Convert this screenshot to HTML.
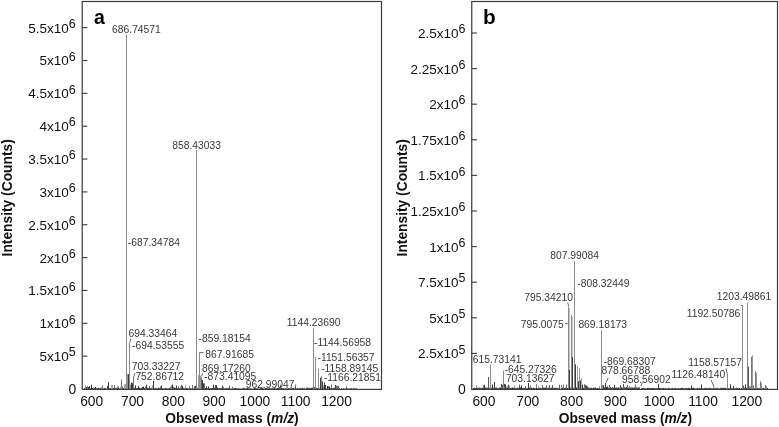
<!DOCTYPE html>
<html><head><meta charset="utf-8"><style>
html,body{margin:0;padding:0;background:#fff;width:779px;height:427px;overflow:hidden}
svg{display:block;will-change:transform;font-family:"Liberation Sans",sans-serif}
</style></head><body>
<svg width="779" height="427" viewBox="0 0 779 427">
<rect width="779" height="427" fill="#fff"/>
<text x="91.70" y="405.70" font-size="13.8" fill="#111" text-anchor="middle">600</text>
<text x="483.90" y="405.70" font-size="13.8" fill="#111" text-anchor="middle">600</text>
<text x="132.50" y="405.70" font-size="13.8" fill="#111" text-anchor="middle">700</text>
<text x="527.73" y="405.70" font-size="13.8" fill="#111" text-anchor="middle">700</text>
<text x="173.30" y="405.70" font-size="13.8" fill="#111" text-anchor="middle">800</text>
<text x="571.56" y="405.70" font-size="13.8" fill="#111" text-anchor="middle">800</text>
<text x="214.10" y="405.70" font-size="13.8" fill="#111" text-anchor="middle">900</text>
<text x="615.39" y="405.70" font-size="13.8" fill="#111" text-anchor="middle">900</text>
<text x="254.90" y="405.70" font-size="13.8" fill="#111" text-anchor="middle">1000</text>
<text x="659.22" y="405.70" font-size="13.8" fill="#111" text-anchor="middle">1000</text>
<text x="295.70" y="405.70" font-size="13.8" fill="#111" text-anchor="middle">1100</text>
<text x="703.05" y="405.70" font-size="13.8" fill="#111" text-anchor="middle">1100</text>
<text x="336.50" y="405.70" font-size="13.8" fill="#111" text-anchor="middle">1200</text>
<text x="746.88" y="405.70" font-size="13.8" fill="#111" text-anchor="middle">1200</text>
<text x="232" y="422.6" font-size="13.8" font-weight="bold" fill="#111" text-anchor="middle">Obseved mass (<tspan font-style="italic">m/z</tspan>)</text>
<text x="625.4" y="422.6" font-size="13.8" font-weight="bold" fill="#111" text-anchor="middle">Obseved mass (<tspan font-style="italic">m/z</tspan>)</text>
<text transform="translate(11.8,197.8) rotate(-90)" font-size="13.8" font-weight="bold" fill="#111" text-anchor="middle">Intensity (Counts)</text>
<text transform="translate(406.9,197.8) rotate(-90)" font-size="13.8" font-weight="bold" fill="#111" text-anchor="middle">Intensity (Counts)</text>
<text x="93.90" y="23.90" font-size="19.5" fill="#000" font-weight="bold">a</text>
<text x="482.90" y="24.20" font-size="20.8" fill="#000" font-weight="bold">b</text>
<rect x="84" y="388.04" width="1" height="1.46" fill="#414141"/>
<rect x="85" y="388.30" width="1" height="1.20" fill="#383838"/>
<rect x="86" y="388.12" width="1" height="1.38" fill="#696969"/>
<rect x="87" y="388.42" width="1" height="1.08" fill="#4a4a4a"/>
<rect x="87" y="385.92" width="1" height="2.50" fill="#777777"/>
<rect x="88" y="387.94" width="1" height="1.56" fill="#303030"/>
<rect x="89" y="388.03" width="1" height="1.47" fill="#4d4d4d"/>
<rect x="89" y="386.03" width="1" height="2.00" fill="#434343"/>
<rect x="90" y="388.48" width="1" height="1.02" fill="#323232"/>
<rect x="91" y="387.95" width="1" height="1.55" fill="#606060"/>
<rect x="92" y="388.08" width="1" height="1.42" fill="#333333"/>
<rect x="93" y="388.06" width="1" height="1.44" fill="#6f6f6f"/>
<rect x="94" y="387.89" width="1" height="1.61" fill="#4c4c4c"/>
<rect x="95" y="388.17" width="1" height="1.33" fill="#323232"/>
<rect x="96" y="388.35" width="1" height="1.15" fill="#3c3c3c"/>
<rect x="97" y="388.40" width="1" height="1.10" fill="#555555"/>
<rect x="98" y="387.75" width="1" height="1.75" fill="#707070"/>
<rect x="99" y="388.26" width="1" height="1.24" fill="#484848"/>
<rect x="100" y="387.82" width="1" height="1.68" fill="#6f6f6f"/>
<rect x="101" y="388.12" width="1" height="1.38" fill="#343434"/>
<rect x="102" y="388.17" width="1" height="1.33" fill="#636363"/>
<rect x="102" y="385.17" width="1" height="3.00" fill="#999999"/>
<rect x="103" y="388.43" width="1" height="1.07" fill="#5f5f5f"/>
<rect x="104" y="387.88" width="1" height="1.62" fill="#3d3d3d"/>
<rect x="105" y="388.20" width="1" height="1.30" fill="#626262"/>
<rect x="106" y="388.47" width="1" height="1.03" fill="#6c6c6c"/>
<rect x="107" y="387.98" width="1" height="1.52" fill="#626262"/>
<rect x="107" y="385.98" width="1" height="2.00" fill="#414141"/>
<rect x="108" y="388.07" width="1" height="1.43" fill="#494949"/>
<rect x="109" y="388.18" width="1" height="1.32" fill="#4d4d4d"/>
<rect x="110" y="388.13" width="1" height="1.37" fill="#5d5d5d"/>
<rect x="111" y="388.19" width="1" height="1.31" fill="#303030"/>
<rect x="112" y="388.09" width="1" height="1.41" fill="#404040"/>
<rect x="113" y="387.74" width="1" height="1.76" fill="#666666"/>
<rect x="114" y="388.04" width="1" height="1.46" fill="#5e5e5e"/>
<rect x="114" y="385.04" width="1" height="3.00" fill="#747474"/>
<rect x="115" y="387.85" width="1" height="1.65" fill="#6e6e6e"/>
<rect x="116" y="388.07" width="1" height="1.43" fill="#303030"/>
<rect x="117" y="388.13" width="1" height="1.37" fill="#5a5a5a"/>
<rect x="117" y="386.13" width="1" height="2.00" fill="#919191"/>
<rect x="118" y="388.06" width="1" height="1.44" fill="#464646"/>
<rect x="118" y="386.56" width="1" height="1.50" fill="#868686"/>
<rect x="119" y="388.47" width="1" height="1.03" fill="#505050"/>
<rect x="120" y="388.43" width="1" height="1.07" fill="#393939"/>
<rect x="120" y="386.93" width="1" height="1.50" fill="#a0a0a0"/>
<rect x="121" y="388.30" width="1" height="1.20" fill="#535353"/>
<rect x="121" y="385.30" width="1" height="3.00" fill="#575757"/>
<rect x="122" y="388.27" width="1" height="1.23" fill="#5c5c5c"/>
<rect x="122" y="386.27" width="1" height="2.00" fill="#838383"/>
<rect x="123" y="387.97" width="1" height="1.53" fill="#454545"/>
<rect x="124" y="388.14" width="1" height="1.36" fill="#555555"/>
<rect x="125" y="388.41" width="1" height="1.09" fill="#6c6c6c"/>
<rect x="126" y="388.16" width="1" height="1.34" fill="#5b5b5b"/>
<rect x="126" y="386.66" width="1" height="1.50" fill="#606060"/>
<rect x="127" y="387.73" width="1" height="1.77" fill="#4a4a4a"/>
<rect x="128" y="388.32" width="1" height="1.18" fill="#323232"/>
<rect x="129" y="387.92" width="1" height="1.58" fill="#343434"/>
<rect x="129" y="384.42" width="1" height="3.50" fill="#808080"/>
<rect x="130" y="388.06" width="1" height="1.44" fill="#666666"/>
<rect x="130" y="384.56" width="1" height="3.50" fill="#989898"/>
<rect x="131" y="388.32" width="1" height="1.18" fill="#696969"/>
<rect x="132" y="387.96" width="1" height="1.54" fill="#626262"/>
<rect x="133" y="388.45" width="1" height="1.05" fill="#666666"/>
<rect x="134" y="387.80" width="1" height="1.70" fill="#4b4b4b"/>
<rect x="135" y="388.25" width="1" height="1.25" fill="#393939"/>
<rect x="136" y="388.17" width="1" height="1.33" fill="#444444"/>
<rect x="137" y="388.05" width="1" height="1.45" fill="#313131"/>
<rect x="138" y="387.73" width="1" height="1.77" fill="#4b4b4b"/>
<rect x="139" y="387.84" width="1" height="1.66" fill="#454545"/>
<rect x="140" y="388.20" width="1" height="1.30" fill="#343434"/>
<rect x="141" y="388.04" width="1" height="1.46" fill="#4a4a4a"/>
<rect x="142" y="388.11" width="1" height="1.39" fill="#484848"/>
<rect x="143" y="388.26" width="1" height="1.24" fill="#616161"/>
<rect x="144" y="388.01" width="1" height="1.49" fill="#595959"/>
<rect x="145" y="388.49" width="1" height="1.01" fill="#545454"/>
<rect x="145" y="386.49" width="1" height="2.00" fill="#888888"/>
<rect x="146" y="388.23" width="1" height="1.27" fill="#414141"/>
<rect x="146" y="384.73" width="1" height="3.50" fill="#4c4c4c"/>
<rect x="147" y="387.75" width="1" height="1.75" fill="#606060"/>
<rect x="148" y="387.89" width="1" height="1.61" fill="#6e6e6e"/>
<rect x="149" y="387.92" width="1" height="1.58" fill="#383838"/>
<rect x="149" y="385.92" width="1" height="2.00" fill="#555555"/>
<rect x="150" y="388.29" width="1" height="1.21" fill="#4b4b4b"/>
<rect x="151" y="387.83" width="1" height="1.67" fill="#707070"/>
<rect x="152" y="388.41" width="1" height="1.09" fill="#5b5b5b"/>
<rect x="152" y="385.41" width="1" height="3.00" fill="#9b9b9b"/>
<rect x="153" y="388.39" width="1" height="1.11" fill="#6e6e6e"/>
<rect x="154" y="388.24" width="1" height="1.26" fill="#3d3d3d"/>
<rect x="155" y="387.81" width="1" height="1.69" fill="#606060"/>
<rect x="156" y="388.23" width="1" height="1.27" fill="#404040"/>
<rect x="157" y="388.44" width="1" height="1.06" fill="#606060"/>
<rect x="158" y="387.74" width="1" height="1.76" fill="#3a3a3a"/>
<rect x="159" y="388.05" width="1" height="1.45" fill="#555555"/>
<rect x="160" y="387.78" width="1" height="1.72" fill="#6a6a6a"/>
<rect x="160" y="386.28" width="1" height="1.50" fill="#656565"/>
<rect x="161" y="388.01" width="1" height="1.49" fill="#313131"/>
<rect x="161" y="385.51" width="1" height="2.50" fill="#4e4e4e"/>
<rect x="162" y="388.35" width="1" height="1.15" fill="#353535"/>
<rect x="163" y="388.37" width="1" height="1.13" fill="#656565"/>
<rect x="164" y="388.37" width="1" height="1.13" fill="#4e4e4e"/>
<rect x="165" y="387.77" width="1" height="1.73" fill="#676767"/>
<rect x="166" y="388.06" width="1" height="1.44" fill="#555555"/>
<rect x="167" y="388.42" width="1" height="1.08" fill="#585858"/>
<rect x="168" y="388.48" width="1" height="1.02" fill="#353535"/>
<rect x="169" y="387.92" width="1" height="1.58" fill="#555555"/>
<rect x="170" y="388.25" width="1" height="1.25" fill="#626262"/>
<rect x="170" y="386.25" width="1" height="2.00" fill="#8c8c8c"/>
<rect x="171" y="388.41" width="1" height="1.09" fill="#6a6a6a"/>
<rect x="171" y="385.41" width="1" height="3.00" fill="#858585"/>
<rect x="172" y="387.97" width="1" height="1.53" fill="#6c6c6c"/>
<rect x="173" y="388.25" width="1" height="1.25" fill="#4a4a4a"/>
<rect x="173" y="386.75" width="1" height="1.50" fill="#636363"/>
<rect x="174" y="387.71" width="1" height="1.79" fill="#3b3b3b"/>
<rect x="175" y="387.75" width="1" height="1.75" fill="#5b5b5b"/>
<rect x="176" y="388.47" width="1" height="1.03" fill="#575757"/>
<rect x="176" y="385.47" width="1" height="3.00" fill="#666666"/>
<rect x="177" y="388.23" width="1" height="1.27" fill="#4f4f4f"/>
<rect x="178" y="388.30" width="1" height="1.20" fill="#3b3b3b"/>
<rect x="178" y="386.30" width="1" height="2.00" fill="#737373"/>
<rect x="179" y="388.29" width="1" height="1.21" fill="#393939"/>
<rect x="180" y="388.48" width="1" height="1.02" fill="#393939"/>
<rect x="180" y="386.48" width="1" height="2.00" fill="#7f7f7f"/>
<rect x="181" y="387.81" width="1" height="1.69" fill="#6c6c6c"/>
<rect x="181" y="384.81" width="1" height="3.00" fill="#696969"/>
<rect x="182" y="388.09" width="1" height="1.41" fill="#393939"/>
<rect x="183" y="387.88" width="1" height="1.62" fill="#464646"/>
<rect x="184" y="388.26" width="1" height="1.24" fill="#585858"/>
<rect x="185" y="388.40" width="1" height="1.10" fill="#555555"/>
<rect x="185" y="385.40" width="1" height="3.00" fill="#9c9c9c"/>
<rect x="186" y="387.88" width="1" height="1.62" fill="#343434"/>
<rect x="187" y="388.36" width="1" height="1.14" fill="#4a4a4a"/>
<rect x="188" y="388.46" width="1" height="1.04" fill="#444444"/>
<rect x="189" y="388.30" width="1" height="1.20" fill="#4f4f4f"/>
<rect x="189" y="385.80" width="1" height="2.50" fill="#777777"/>
<rect x="190" y="388.07" width="1" height="1.43" fill="#505050"/>
<rect x="191" y="388.49" width="1" height="1.01" fill="#6a6a6a"/>
<rect x="192" y="388.29" width="1" height="1.21" fill="#454545"/>
<rect x="192" y="384.79" width="1" height="3.50" fill="#757575"/>
<rect x="193" y="388.45" width="1" height="1.05" fill="#323232"/>
<rect x="194" y="388.03" width="1" height="1.47" fill="#414141"/>
<rect x="194" y="386.03" width="1" height="2.00" fill="#727272"/>
<rect x="195" y="388.36" width="1" height="1.14" fill="#636363"/>
<rect x="195" y="385.86" width="1" height="2.50" fill="#404040"/>
<rect x="196" y="388.08" width="1" height="1.42" fill="#464646"/>
<rect x="197" y="387.76" width="1" height="1.74" fill="#686868"/>
<rect x="198" y="388.31" width="1" height="1.19" fill="#4c4c4c"/>
<rect x="199" y="387.73" width="1" height="1.77" fill="#6d6d6d"/>
<rect x="201" y="387.81" width="1" height="1.69" fill="#696969"/>
<rect x="202" y="388.14" width="1" height="1.36" fill="#6b6b6b"/>
<rect x="203" y="388.35" width="1" height="1.15" fill="#484848"/>
<rect x="204" y="388.42" width="1" height="1.08" fill="#474747"/>
<rect x="205" y="388.07" width="1" height="1.43" fill="#3b3b3b"/>
<rect x="206" y="388.02" width="1" height="1.48" fill="#353535"/>
<rect x="207" y="387.98" width="1" height="1.52" fill="#696969"/>
<rect x="208" y="388.00" width="1" height="1.50" fill="#444444"/>
<rect x="209" y="388.45" width="1" height="1.05" fill="#383838"/>
<rect x="210" y="388.02" width="1" height="1.48" fill="#4e4e4e"/>
<rect x="211" y="388.15" width="1" height="1.35" fill="#595959"/>
<rect x="212" y="387.99" width="1" height="1.51" fill="#4d4d4d"/>
<rect x="213" y="388.13" width="1" height="1.37" fill="#3a3a3a"/>
<rect x="214" y="387.93" width="1" height="1.57" fill="#3a3a3a"/>
<rect x="215" y="388.09" width="1" height="1.41" fill="#4d4d4d"/>
<rect x="215" y="385.09" width="1" height="3.00" fill="#4d4d4d"/>
<rect x="216" y="388.41" width="1" height="1.09" fill="#636363"/>
<rect x="217" y="387.73" width="1" height="1.77" fill="#383838"/>
<rect x="218" y="388.33" width="1" height="1.17" fill="#303030"/>
<rect x="219" y="388.12" width="1" height="1.38" fill="#363636"/>
<rect x="220" y="388.16" width="1" height="1.34" fill="#626262"/>
<rect x="221" y="387.88" width="1" height="1.62" fill="#494949"/>
<rect x="222" y="388.25" width="1" height="1.25" fill="#3b3b3b"/>
<rect x="222" y="385.75" width="1" height="2.50" fill="#4f4f4f"/>
<rect x="223" y="388.30" width="1" height="1.20" fill="#414141"/>
<rect x="223" y="386.80" width="1" height="1.50" fill="#7b7b7b"/>
<rect x="224" y="388.36" width="1" height="1.14" fill="#6e6e6e"/>
<rect x="225" y="388.09" width="1" height="1.41" fill="#696969"/>
<rect x="226" y="388.16" width="1" height="1.34" fill="#404040"/>
<rect x="227" y="388.16" width="1" height="1.34" fill="#626262"/>
<rect x="228" y="387.81" width="1" height="1.69" fill="#525252"/>
<rect x="229" y="387.70" width="1" height="1.80" fill="#565656"/>
<rect x="229" y="385.70" width="1" height="2.00" fill="#727272"/>
<rect x="231" y="388.48" width="1" height="1.02" fill="#6c6c6c"/>
<rect x="232" y="388.59" width="1" height="0.91" fill="#5c5c5c"/>
<rect x="232" y="386.59" width="1" height="2.00" fill="#7d7d7d"/>
<rect x="233" y="388.19" width="1" height="1.31" fill="#535353"/>
<rect x="234" y="388.25" width="1" height="1.25" fill="#4d4d4d"/>
<rect x="235" y="387.92" width="1" height="1.58" fill="#424242"/>
<rect x="236" y="387.98" width="1" height="1.52" fill="#5b5b5b"/>
<rect x="237" y="388.64" width="1" height="0.86" fill="#494949"/>
<rect x="238" y="388.15" width="1" height="1.35" fill="#5b5b5b"/>
<rect x="239" y="388.69" width="1" height="0.81" fill="#3b3b3b"/>
<rect x="240" y="388.63" width="1" height="0.87" fill="#4c4c4c"/>
<rect x="241" y="388.61" width="1" height="0.89" fill="#686868"/>
<rect x="242" y="388.27" width="1" height="1.23" fill="#414141"/>
<rect x="243" y="387.92" width="1" height="1.58" fill="#444444"/>
<rect x="244" y="388.29" width="1" height="1.21" fill="#454545"/>
<rect x="245" y="388.17" width="1" height="1.33" fill="#656565"/>
<rect x="246" y="388.27" width="1" height="1.23" fill="#616161"/>
<rect x="247" y="387.93" width="1" height="1.57" fill="#3a3a3a"/>
<rect x="248" y="388.41" width="1" height="1.09" fill="#515151"/>
<rect x="249" y="388.16" width="1" height="1.34" fill="#616161"/>
<rect x="250" y="388.43" width="1" height="1.07" fill="#4e4e4e"/>
<rect x="251" y="388.56" width="1" height="0.94" fill="#707070"/>
<rect x="252" y="388.67" width="1" height="0.83" fill="#676767"/>
<rect x="253" y="388.67" width="1" height="0.83" fill="#666666"/>
<rect x="254" y="388.10" width="1" height="1.40" fill="#3d3d3d"/>
<rect x="255" y="388.14" width="1" height="1.36" fill="#393939"/>
<rect x="256" y="388.30" width="1" height="1.20" fill="#535353"/>
<rect x="257" y="388.29" width="1" height="1.21" fill="#363636"/>
<rect x="258" y="388.47" width="1" height="1.03" fill="#5b5b5b"/>
<rect x="259" y="388.51" width="1" height="0.99" fill="#6d6d6d"/>
<rect x="260" y="387.96" width="1" height="1.54" fill="#6b6b6b"/>
<rect x="261" y="388.09" width="1" height="1.41" fill="#484848"/>
<rect x="262" y="387.94" width="1" height="1.56" fill="#303030"/>
<rect x="263" y="388.56" width="1" height="0.94" fill="#5b5b5b"/>
<rect x="264" y="388.67" width="1" height="0.83" fill="#707070"/>
<rect x="265" y="387.90" width="1" height="1.60" fill="#5e5e5e"/>
<rect x="266" y="387.96" width="1" height="1.54" fill="#333333"/>
<rect x="267" y="388.19" width="1" height="1.31" fill="#535353"/>
<rect x="268" y="388.32" width="1" height="1.18" fill="#707070"/>
<rect x="269" y="388.15" width="1" height="1.35" fill="#515151"/>
<rect x="270" y="388.34" width="1" height="1.16" fill="#444444"/>
<rect x="271" y="388.48" width="1" height="1.02" fill="#353535"/>
<rect x="272" y="388.14" width="1" height="1.36" fill="#686868"/>
<rect x="273" y="388.28" width="1" height="1.22" fill="#545454"/>
<rect x="274" y="388.14" width="1" height="1.36" fill="#303030"/>
<rect x="275" y="388.36" width="1" height="1.14" fill="#525252"/>
<rect x="276" y="388.32" width="1" height="1.18" fill="#676767"/>
<rect x="277" y="388.09" width="1" height="1.41" fill="#515151"/>
<rect x="278" y="387.98" width="1" height="1.52" fill="#3b3b3b"/>
<rect x="279" y="387.92" width="1" height="1.58" fill="#5c5c5c"/>
<rect x="280" y="388.25" width="1" height="1.25" fill="#616161"/>
<rect x="280" y="384.75" width="1" height="3.50" fill="#535353"/>
<rect x="281" y="388.06" width="1" height="1.44" fill="#333333"/>
<rect x="282" y="388.27" width="1" height="1.23" fill="#656565"/>
<rect x="283" y="388.07" width="1" height="1.43" fill="#606060"/>
<rect x="284" y="388.45" width="1" height="1.05" fill="#484848"/>
<rect x="285" y="388.20" width="1" height="1.30" fill="#6e6e6e"/>
<rect x="286" y="388.24" width="1" height="1.26" fill="#626262"/>
<rect x="287" y="388.44" width="1" height="1.06" fill="#5d5d5d"/>
<rect x="288" y="388.15" width="1" height="1.35" fill="#424242"/>
<rect x="289" y="388.14" width="1" height="1.36" fill="#575757"/>
<rect x="290" y="388.41" width="1" height="1.09" fill="#676767"/>
<rect x="291" y="388.20" width="1" height="1.30" fill="#6e6e6e"/>
<rect x="292" y="388.17" width="1" height="1.33" fill="#373737"/>
<rect x="293" y="387.99" width="1" height="1.51" fill="#4e4e4e"/>
<rect x="294" y="388.69" width="1" height="0.81" fill="#4c4c4c"/>
<rect x="295" y="388.02" width="1" height="1.48" fill="#535353"/>
<rect x="296" y="388.52" width="1" height="0.98" fill="#555555"/>
<rect x="297" y="387.98" width="1" height="1.52" fill="#707070"/>
<rect x="298" y="388.33" width="1" height="1.17" fill="#707070"/>
<rect x="299" y="388.33" width="1" height="1.17" fill="#4f4f4f"/>
<rect x="300" y="388.03" width="1" height="1.47" fill="#363636"/>
<rect x="301" y="388.28" width="1" height="1.22" fill="#626262"/>
<rect x="302" y="387.92" width="1" height="1.58" fill="#363636"/>
<rect x="303" y="388.42" width="1" height="1.08" fill="#575757"/>
<rect x="304" y="388.08" width="1" height="1.42" fill="#595959"/>
<rect x="306" y="387.81" width="1" height="1.69" fill="#505050"/>
<rect x="307" y="387.73" width="1" height="1.77" fill="#333333"/>
<rect x="308" y="387.88" width="1" height="1.62" fill="#4f4f4f"/>
<rect x="309" y="388.10" width="1" height="1.40" fill="#3e3e3e"/>
<rect x="310" y="387.96" width="1" height="1.54" fill="#606060"/>
<rect x="311" y="387.82" width="1" height="1.68" fill="#313131"/>
<rect x="312" y="387.67" width="1" height="1.83" fill="#474747"/>
<rect x="313" y="387.79" width="1" height="1.71" fill="#444444"/>
<rect x="313" y="384.79" width="1" height="3.00" fill="#8f8f8f"/>
<rect x="314" y="388.30" width="1" height="1.20" fill="#686868"/>
<rect x="314" y="386.80" width="1" height="1.50" fill="#5a5a5a"/>
<rect x="315" y="387.63" width="1" height="1.87" fill="#4b4b4b"/>
<rect x="315" y="385.63" width="1" height="2.00" fill="#656565"/>
<rect x="316" y="387.63" width="1" height="1.87" fill="#585858"/>
<rect x="317" y="388.25" width="1" height="1.25" fill="#4a4a4a"/>
<rect x="318" y="387.63" width="1" height="1.87" fill="#494949"/>
<rect x="319" y="388.38" width="1" height="1.12" fill="#565656"/>
<rect x="320" y="388.19" width="1" height="1.31" fill="#424242"/>
<rect x="321" y="387.92" width="1" height="1.58" fill="#303030"/>
<rect x="322" y="388.15" width="1" height="1.35" fill="#383838"/>
<rect x="323" y="387.84" width="1" height="1.66" fill="#6d6d6d"/>
<rect x="323" y="385.34" width="1" height="2.50" fill="#9a9a9a"/>
<rect x="324" y="388.35" width="1" height="1.15" fill="#464646"/>
<rect x="325" y="387.64" width="1" height="1.86" fill="#323232"/>
<rect x="326" y="388.39" width="1" height="1.11" fill="#636363"/>
<rect x="327" y="388.10" width="1" height="1.40" fill="#5e5e5e"/>
<rect x="328" y="388.36" width="1" height="1.14" fill="#696969"/>
<rect x="328" y="386.36" width="1" height="2.00" fill="#4f4f4f"/>
<rect x="329" y="387.66" width="1" height="1.84" fill="#4f4f4f"/>
<rect x="330" y="387.99" width="1" height="1.51" fill="#5c5c5c"/>
<rect x="331" y="387.78" width="1" height="1.72" fill="#505050"/>
<rect x="331" y="384.28" width="1" height="3.50" fill="#6f6f6f"/>
<rect x="332" y="388.37" width="1" height="1.13" fill="#555555"/>
<rect x="333" y="388.23" width="1" height="1.27" fill="#3b3b3b"/>
<rect x="334" y="387.67" width="1" height="1.83" fill="#5e5e5e"/>
<rect x="335" y="388.15" width="1" height="1.35" fill="#3b3b3b"/>
<rect x="336" y="387.76" width="1" height="1.74" fill="#464646"/>
<rect x="337" y="387.60" width="1" height="1.90" fill="#575757"/>
<rect x="337" y="386.10" width="1" height="1.50" fill="#4a4a4a"/>
<rect x="338" y="388.37" width="1" height="1.13" fill="#636363"/>
<rect x="339" y="387.74" width="1" height="1.76" fill="#5c5c5c"/>
<rect x="341" y="388.04" width="1" height="1.46" fill="#595959"/>
<rect x="342" y="388.74" width="1" height="0.76" fill="#363636"/>
<rect x="343" y="388.33" width="1" height="1.17" fill="#5e5e5e"/>
<rect x="344" y="388.77" width="1" height="0.73" fill="#4b4b4b"/>
<rect x="345" y="388.61" width="1" height="0.89" fill="#383838"/>
<rect x="346" y="388.14" width="1" height="1.36" fill="#373737"/>
<rect x="346" y="386.14" width="1" height="2.00" fill="#909090"/>
<rect x="347" y="388.34" width="1" height="1.16" fill="#373737"/>
<rect x="348" y="388.76" width="1" height="0.74" fill="#4c4c4c"/>
<rect x="349" y="388.46" width="1" height="1.04" fill="#555555"/>
<rect x="350" y="388.35" width="1" height="1.15" fill="#575757"/>
<rect x="351" y="388.33" width="1" height="1.17" fill="#3d3d3d"/>
<rect x="352" y="388.72" width="1" height="0.78" fill="#5f5f5f"/>
<rect x="353" y="388.30" width="1" height="1.20" fill="#373737"/>
<rect x="354" y="388.18" width="1" height="1.32" fill="#666666"/>
<rect x="355" y="388.51" width="1" height="0.99" fill="#6a6a6a"/>
<rect x="356" y="388.24" width="1" height="1.26" fill="#474747"/>
<rect x="85" y="385.30" width="1" height="4.20" fill="#999"/>
<rect x="86" y="386.90" width="1" height="2.60" fill="#3a3a3a"/>
<rect x="88" y="387.00" width="1" height="2.50" fill="#3a3a3a"/>
<rect x="91" y="384.80" width="1" height="4.70" fill="#3a3a3a"/>
<rect x="93" y="387.00" width="1" height="2.50" fill="#999"/>
<rect x="95" y="387.00" width="1" height="2.50" fill="#3a3a3a"/>
<rect x="98" y="388.00" width="1" height="1.50" fill="#3a3a3a"/>
<rect x="101" y="387.00" width="1" height="2.50" fill="#999"/>
<rect x="108" y="381.90" width="1" height="7.60" fill="#3a3a3a"/>
<rect x="111" y="384.80" width="1" height="4.70" fill="#aaa"/>
<rect x="112" y="384.80" width="1" height="4.70" fill="#aaa"/>
<rect x="113" y="388.00" width="1" height="1.50" fill="#3a3a3a"/>
<rect x="118" y="388.00" width="1" height="1.50" fill="#3a3a3a"/>
<rect x="121" y="379.60" width="1" height="9.90" fill="#777"/>
<rect x="124" y="384.30" width="1" height="5.20" fill="#aaa"/>
<rect x="125" y="384.00" width="1" height="5.50" fill="#999"/>
<rect x="127" y="373.90" width="1" height="15.60" fill="#999"/>
<rect x="128" y="374.20" width="1" height="15.30" fill="#3a3a3a"/>
<rect x="131" y="382.50" width="1" height="7.00" fill="#3a3a3a"/>
<rect x="132" y="383.20" width="1" height="6.30" fill="#3a3a3a"/>
<rect x="133" y="376.90" width="1" height="12.60" fill="#777"/>
<rect x="135" y="385.50" width="1" height="4.00" fill="#3a3a3a"/>
<rect x="138" y="386.20" width="1" height="3.30" fill="#3a3a3a"/>
<rect x="142" y="387.00" width="1" height="2.50" fill="#3a3a3a"/>
<rect x="143" y="386.50" width="1" height="3.00" fill="#3a3a3a"/>
<rect x="146" y="386.50" width="1" height="3.00" fill="#3a3a3a"/>
<rect x="153" y="380.80" width="1" height="8.70" fill="#3a3a3a"/>
<rect x="172" y="384.70" width="1" height="4.80" fill="#3a3a3a"/>
<rect x="176" y="386.00" width="1" height="3.50" fill="#3a3a3a"/>
<rect x="182" y="386.00" width="1" height="3.50" fill="#3a3a3a"/>
<rect x="198" y="375.10" width="1" height="14.40" fill="#999"/>
<rect x="200" y="375.70" width="1" height="13.80" fill="#999"/>
<rect x="201" y="377.60" width="1" height="11.90" fill="#666"/>
<rect x="202" y="380.20" width="1" height="9.30" fill="#3a3a3a"/>
<rect x="203" y="383.30" width="1" height="6.20" fill="#3a3a3a"/>
<rect x="204" y="383.30" width="1" height="6.20" fill="#777"/>
<rect x="206" y="386.50" width="1" height="3.00" fill="#3a3a3a"/>
<rect x="208" y="386.50" width="1" height="3.00" fill="#3a3a3a"/>
<rect x="213" y="384.60" width="1" height="4.90" fill="#3a3a3a"/>
<rect x="216" y="385.20" width="1" height="4.30" fill="#3a3a3a"/>
<rect x="318" y="377.10" width="1" height="12.40" fill="#3a3a3a"/>
<rect x="320" y="377.70" width="1" height="11.80" fill="#3a3a3a"/>
<rect x="322" y="381.40" width="1" height="8.10" fill="#3a3a3a"/>
<rect x="324" y="382.60" width="1" height="6.90" fill="#3a3a3a"/>
<rect x="325" y="385.00" width="1" height="4.50" fill="#3a3a3a"/>
<rect x="327" y="386.00" width="1" height="3.50" fill="#3a3a3a"/>
<rect x="329" y="386.50" width="1" height="3.00" fill="#3a3a3a"/>
<rect x="335" y="385.00" width="1" height="4.50" fill="#3a3a3a"/>
<rect x="336" y="385.50" width="1" height="4.00" fill="#777"/>
<rect x="338" y="386.00" width="1" height="3.50" fill="#777"/>
<rect x="295" y="387.00" width="1" height="2.50" fill="#3a3a3a"/>
<rect x="126" y="34.60" width="1" height="354.90" fill="#8a8a8a"/>
<rect x="129" y="342.80" width="1" height="46.70" fill="#8a8a8a"/>
<rect x="196" y="150.00" width="1" height="239.50" fill="#8a8a8a"/>
<rect x="199" y="352.50" width="1" height="37.00" fill="#8a8a8a"/>
<rect x="313" y="328.20" width="1" height="61.30" fill="#8a8a8a"/>
<rect x="315" y="357.00" width="1" height="32.50" fill="#8a8a8a"/>
<rect x="318" y="368.60" width="1" height="20.90" fill="#8a8a8a"/>
<rect x="321" y="375.90" width="1" height="13.60" fill="#8a8a8a"/>
<rect x="473" y="388.13" width="1" height="1.37" fill="#373737"/>
<rect x="474" y="387.61" width="1" height="1.89" fill="#454545"/>
<rect x="475" y="388.00" width="1" height="1.50" fill="#575757"/>
<rect x="476" y="387.74" width="1" height="1.76" fill="#343434"/>
<rect x="476" y="385.24" width="1" height="2.50" fill="#919191"/>
<rect x="477" y="387.56" width="1" height="1.94" fill="#626262"/>
<rect x="478" y="387.76" width="1" height="1.74" fill="#5f5f5f"/>
<rect x="479" y="387.48" width="1" height="2.02" fill="#525252"/>
<rect x="480" y="387.83" width="1" height="1.67" fill="#5e5e5e"/>
<rect x="481" y="387.86" width="1" height="1.64" fill="#606060"/>
<rect x="482" y="387.75" width="1" height="1.75" fill="#454545"/>
<rect x="483" y="388.06" width="1" height="1.44" fill="#333333"/>
<rect x="483" y="385.06" width="1" height="3.00" fill="#818181"/>
<rect x="484" y="387.40" width="1" height="2.10" fill="#5e5e5e"/>
<rect x="485" y="387.40" width="1" height="2.10" fill="#474747"/>
<rect x="486" y="387.61" width="1" height="1.89" fill="#656565"/>
<rect x="487" y="387.57" width="1" height="1.93" fill="#5e5e5e"/>
<rect x="488" y="388.07" width="1" height="1.43" fill="#696969"/>
<rect x="489" y="387.68" width="1" height="1.82" fill="#6b6b6b"/>
<rect x="490" y="387.46" width="1" height="2.04" fill="#535353"/>
<rect x="491" y="387.67" width="1" height="1.83" fill="#5d5d5d"/>
<rect x="492" y="387.92" width="1" height="1.58" fill="#6b6b6b"/>
<rect x="493" y="387.81" width="1" height="1.69" fill="#6a6a6a"/>
<rect x="494" y="387.55" width="1" height="1.95" fill="#595959"/>
<rect x="495" y="387.58" width="1" height="1.92" fill="#525252"/>
<rect x="496" y="387.43" width="1" height="2.07" fill="#565656"/>
<rect x="497" y="387.75" width="1" height="1.75" fill="#707070"/>
<rect x="498" y="387.95" width="1" height="1.55" fill="#646464"/>
<rect x="499" y="387.45" width="1" height="2.05" fill="#5e5e5e"/>
<rect x="500" y="387.57" width="1" height="1.93" fill="#393939"/>
<rect x="501" y="387.47" width="1" height="2.03" fill="#313131"/>
<rect x="501" y="383.97" width="1" height="3.50" fill="#4d4d4d"/>
<rect x="502" y="387.74" width="1" height="1.76" fill="#373737"/>
<rect x="502" y="384.74" width="1" height="3.00" fill="#5d5d5d"/>
<rect x="503" y="387.60" width="1" height="1.90" fill="#3d3d3d"/>
<rect x="503" y="385.60" width="1" height="2.00" fill="#5f5f5f"/>
<rect x="504" y="387.45" width="1" height="2.05" fill="#4a4a4a"/>
<rect x="504" y="383.95" width="1" height="3.50" fill="#444444"/>
<rect x="505" y="387.91" width="1" height="1.59" fill="#373737"/>
<rect x="505" y="384.41" width="1" height="3.50" fill="#434343"/>
<rect x="506" y="388.11" width="1" height="1.39" fill="#3a3a3a"/>
<rect x="506" y="386.61" width="1" height="1.50" fill="#9d9d9d"/>
<rect x="507" y="387.90" width="1" height="1.60" fill="#323232"/>
<rect x="507" y="385.90" width="1" height="2.00" fill="#9e9e9e"/>
<rect x="508" y="387.78" width="1" height="1.72" fill="#474747"/>
<rect x="508" y="384.78" width="1" height="3.00" fill="#454545"/>
<rect x="509" y="388.08" width="1" height="1.42" fill="#4f4f4f"/>
<rect x="509" y="386.08" width="1" height="2.00" fill="#8e8e8e"/>
<rect x="510" y="387.97" width="1" height="1.53" fill="#3e3e3e"/>
<rect x="511" y="387.84" width="1" height="1.66" fill="#575757"/>
<rect x="512" y="387.48" width="1" height="2.02" fill="#353535"/>
<rect x="513" y="387.82" width="1" height="1.68" fill="#434343"/>
<rect x="514" y="387.53" width="1" height="1.97" fill="#585858"/>
<rect x="514" y="385.53" width="1" height="2.00" fill="#828282"/>
<rect x="515" y="387.81" width="1" height="1.69" fill="#626262"/>
<rect x="516" y="387.99" width="1" height="1.51" fill="#5b5b5b"/>
<rect x="517" y="387.68" width="1" height="1.82" fill="#656565"/>
<rect x="518" y="387.66" width="1" height="1.84" fill="#414141"/>
<rect x="519" y="388.07" width="1" height="1.43" fill="#404040"/>
<rect x="519" y="384.57" width="1" height="3.50" fill="#5d5d5d"/>
<rect x="520" y="387.40" width="1" height="2.10" fill="#343434"/>
<rect x="521" y="388.14" width="1" height="1.36" fill="#686868"/>
<rect x="521" y="386.14" width="1" height="2.00" fill="#8f8f8f"/>
<rect x="522" y="387.99" width="1" height="1.51" fill="#5e5e5e"/>
<rect x="523" y="388.08" width="1" height="1.42" fill="#303030"/>
<rect x="524" y="388.11" width="1" height="1.39" fill="#444444"/>
<rect x="525" y="388.12" width="1" height="1.38" fill="#4e4e4e"/>
<rect x="525" y="386.12" width="1" height="2.00" fill="#4d4d4d"/>
<rect x="526" y="388.18" width="1" height="1.32" fill="#4b4b4b"/>
<rect x="527" y="387.95" width="1" height="1.55" fill="#6a6a6a"/>
<rect x="528" y="387.65" width="1" height="1.85" fill="#4b4b4b"/>
<rect x="529" y="387.62" width="1" height="1.88" fill="#4a4a4a"/>
<rect x="530" y="387.74" width="1" height="1.76" fill="#323232"/>
<rect x="530" y="385.24" width="1" height="2.50" fill="#838383"/>
<rect x="531" y="387.46" width="1" height="2.04" fill="#474747"/>
<rect x="532" y="387.91" width="1" height="1.59" fill="#6d6d6d"/>
<rect x="533" y="387.71" width="1" height="1.79" fill="#3f3f3f"/>
<rect x="534" y="387.95" width="1" height="1.55" fill="#5f5f5f"/>
<rect x="535" y="388.12" width="1" height="1.38" fill="#646464"/>
<rect x="536" y="387.55" width="1" height="1.95" fill="#323232"/>
<rect x="536" y="384.05" width="1" height="3.50" fill="#7e7e7e"/>
<rect x="537" y="388.03" width="1" height="1.47" fill="#6b6b6b"/>
<rect x="538" y="388.20" width="1" height="1.30" fill="#393939"/>
<rect x="538" y="386.20" width="1" height="2.00" fill="#9c9c9c"/>
<rect x="539" y="388.02" width="1" height="1.48" fill="#393939"/>
<rect x="540" y="387.74" width="1" height="1.76" fill="#3e3e3e"/>
<rect x="541" y="388.09" width="1" height="1.41" fill="#6b6b6b"/>
<rect x="542" y="388.00" width="1" height="1.50" fill="#3f3f3f"/>
<rect x="542" y="385.00" width="1" height="3.00" fill="#6a6a6a"/>
<rect x="543" y="387.43" width="1" height="2.07" fill="#626262"/>
<rect x="544" y="387.71" width="1" height="1.79" fill="#333333"/>
<rect x="545" y="387.62" width="1" height="1.88" fill="#353535"/>
<rect x="546" y="387.43" width="1" height="2.07" fill="#5d5d5d"/>
<rect x="546" y="385.43" width="1" height="2.00" fill="#626262"/>
<rect x="547" y="387.78" width="1" height="1.72" fill="#6d6d6d"/>
<rect x="548" y="387.45" width="1" height="2.05" fill="#656565"/>
<rect x="549" y="387.88" width="1" height="1.62" fill="#555555"/>
<rect x="549" y="384.88" width="1" height="3.00" fill="#616161"/>
<rect x="550" y="387.64" width="1" height="1.86" fill="#666666"/>
<rect x="551" y="387.73" width="1" height="1.77" fill="#3a3a3a"/>
<rect x="552" y="388.14" width="1" height="1.36" fill="#3c3c3c"/>
<rect x="552" y="385.14" width="1" height="3.00" fill="#525252"/>
<rect x="553" y="387.48" width="1" height="2.02" fill="#656565"/>
<rect x="554" y="388.10" width="1" height="1.40" fill="#343434"/>
<rect x="555" y="387.63" width="1" height="1.87" fill="#4d4d4d"/>
<rect x="556" y="387.85" width="1" height="1.65" fill="#5a5a5a"/>
<rect x="557" y="388.08" width="1" height="1.42" fill="#3e3e3e"/>
<rect x="558" y="388.12" width="1" height="1.38" fill="#666666"/>
<rect x="559" y="388.06" width="1" height="1.44" fill="#505050"/>
<rect x="559" y="384.56" width="1" height="3.50" fill="#5e5e5e"/>
<rect x="561" y="387.73" width="1" height="1.77" fill="#4e4e4e"/>
<rect x="561" y="384.73" width="1" height="3.00" fill="#7c7c7c"/>
<rect x="562" y="387.72" width="1" height="1.78" fill="#383838"/>
<rect x="563" y="387.99" width="1" height="1.51" fill="#6c6c6c"/>
<rect x="563" y="384.49" width="1" height="3.50" fill="#7c7c7c"/>
<rect x="564" y="387.88" width="1" height="1.62" fill="#6c6c6c"/>
<rect x="565" y="387.69" width="1" height="1.81" fill="#4d4d4d"/>
<rect x="566" y="387.61" width="1" height="1.89" fill="#616161"/>
<rect x="567" y="388.07" width="1" height="1.43" fill="#383838"/>
<rect x="568" y="387.96" width="1" height="1.54" fill="#353535"/>
<rect x="568" y="385.96" width="1" height="2.00" fill="#7c7c7c"/>
<rect x="569" y="387.63" width="1" height="1.87" fill="#616161"/>
<rect x="570" y="387.62" width="1" height="1.88" fill="#626262"/>
<rect x="571" y="387.50" width="1" height="2.00" fill="#414141"/>
<rect x="571" y="385.50" width="1" height="2.00" fill="#7f7f7f"/>
<rect x="572" y="387.99" width="1" height="1.51" fill="#4b4b4b"/>
<rect x="573" y="387.86" width="1" height="1.64" fill="#565656"/>
<rect x="574" y="387.77" width="1" height="1.73" fill="#5c5c5c"/>
<rect x="575" y="387.48" width="1" height="2.02" fill="#4d4d4d"/>
<rect x="576" y="387.51" width="1" height="1.99" fill="#333333"/>
<rect x="577" y="387.64" width="1" height="1.86" fill="#444444"/>
<rect x="578" y="387.63" width="1" height="1.87" fill="#3d3d3d"/>
<rect x="578" y="384.63" width="1" height="3.00" fill="#626262"/>
<rect x="579" y="388.10" width="1" height="1.40" fill="#545454"/>
<rect x="580" y="388.13" width="1" height="1.37" fill="#6d6d6d"/>
<rect x="581" y="387.48" width="1" height="2.02" fill="#646464"/>
<rect x="581" y="384.98" width="1" height="2.50" fill="#757575"/>
<rect x="582" y="388.16" width="1" height="1.34" fill="#3f3f3f"/>
<rect x="583" y="387.90" width="1" height="1.60" fill="#353535"/>
<rect x="584" y="387.80" width="1" height="1.70" fill="#535353"/>
<rect x="585" y="388.19" width="1" height="1.31" fill="#575757"/>
<rect x="585" y="385.19" width="1" height="3.00" fill="#444444"/>
<rect x="586" y="387.42" width="1" height="2.08" fill="#494949"/>
<rect x="587" y="388.08" width="1" height="1.42" fill="#515151"/>
<rect x="587" y="386.08" width="1" height="2.00" fill="#686868"/>
<rect x="588" y="387.43" width="1" height="2.07" fill="#5e5e5e"/>
<rect x="589" y="387.90" width="1" height="1.60" fill="#606060"/>
<rect x="590" y="387.68" width="1" height="1.82" fill="#616161"/>
<rect x="591" y="387.70" width="1" height="1.80" fill="#3d3d3d"/>
<rect x="592" y="387.98" width="1" height="1.52" fill="#707070"/>
<rect x="593" y="387.45" width="1" height="2.05" fill="#4e4e4e"/>
<rect x="594" y="387.78" width="1" height="1.72" fill="#515151"/>
<rect x="595" y="387.57" width="1" height="1.93" fill="#313131"/>
<rect x="596" y="388.18" width="1" height="1.32" fill="#585858"/>
<rect x="597" y="388.15" width="1" height="1.35" fill="#414141"/>
<rect x="598" y="387.92" width="1" height="1.58" fill="#6b6b6b"/>
<rect x="599" y="387.61" width="1" height="1.89" fill="#535353"/>
<rect x="599" y="386.11" width="1" height="1.50" fill="#969696"/>
<rect x="601" y="387.56" width="1" height="1.94" fill="#4e4e4e"/>
<rect x="602" y="387.68" width="1" height="1.82" fill="#6d6d6d"/>
<rect x="602" y="385.18" width="1" height="2.50" fill="#868686"/>
<rect x="603" y="387.16" width="1" height="2.34" fill="#555555"/>
<rect x="604" y="387.38" width="1" height="2.12" fill="#4c4c4c"/>
<rect x="605" y="387.14" width="1" height="2.36" fill="#464646"/>
<rect x="606" y="387.14" width="1" height="2.36" fill="#333333"/>
<rect x="607" y="387.65" width="1" height="1.85" fill="#525252"/>
<rect x="608" y="387.73" width="1" height="1.77" fill="#5f5f5f"/>
<rect x="609" y="387.40" width="1" height="2.10" fill="#616161"/>
<rect x="609" y="384.90" width="1" height="2.50" fill="#636363"/>
<rect x="610" y="387.04" width="1" height="2.46" fill="#3b3b3b"/>
<rect x="611" y="387.79" width="1" height="1.71" fill="#565656"/>
<rect x="612" y="387.12" width="1" height="2.38" fill="#575757"/>
<rect x="613" y="387.46" width="1" height="2.04" fill="#646464"/>
<rect x="614" y="387.67" width="1" height="1.83" fill="#696969"/>
<rect x="615" y="387.74" width="1" height="1.76" fill="#353535"/>
<rect x="616" y="387.38" width="1" height="2.12" fill="#535353"/>
<rect x="617" y="387.68" width="1" height="1.82" fill="#5b5b5b"/>
<rect x="618" y="387.47" width="1" height="2.03" fill="#383838"/>
<rect x="619" y="387.58" width="1" height="1.92" fill="#686868"/>
<rect x="620" y="387.29" width="1" height="2.21" fill="#595959"/>
<rect x="620" y="385.29" width="1" height="2.00" fill="#4c4c4c"/>
<rect x="621" y="387.23" width="1" height="2.27" fill="#373737"/>
<rect x="622" y="387.70" width="1" height="1.80" fill="#4e4e4e"/>
<rect x="623" y="387.43" width="1" height="2.07" fill="#555555"/>
<rect x="623" y="383.93" width="1" height="3.50" fill="#4a4a4a"/>
<rect x="624" y="387.21" width="1" height="2.29" fill="#545454"/>
<rect x="625" y="387.54" width="1" height="1.96" fill="#323232"/>
<rect x="626" y="387.18" width="1" height="2.32" fill="#434343"/>
<rect x="627" y="387.57" width="1" height="1.93" fill="#393939"/>
<rect x="627" y="385.07" width="1" height="2.50" fill="#656565"/>
<rect x="628" y="387.60" width="1" height="1.90" fill="#414141"/>
<rect x="629" y="387.53" width="1" height="1.97" fill="#444444"/>
<rect x="629" y="386.03" width="1" height="1.50" fill="#7a7a7a"/>
<rect x="630" y="387.51" width="1" height="1.99" fill="#454545"/>
<rect x="631" y="387.34" width="1" height="2.16" fill="#555555"/>
<rect x="632" y="387.46" width="1" height="2.04" fill="#4a4a4a"/>
<rect x="633" y="387.75" width="1" height="1.75" fill="#373737"/>
<rect x="634" y="387.31" width="1" height="2.19" fill="#434343"/>
<rect x="635" y="387.54" width="1" height="1.96" fill="#4f4f4f"/>
<rect x="635" y="384.54" width="1" height="3.00" fill="#656565"/>
<rect x="636" y="387.28" width="1" height="2.22" fill="#646464"/>
<rect x="637" y="387.61" width="1" height="1.89" fill="#494949"/>
<rect x="638" y="387.62" width="1" height="1.88" fill="#343434"/>
<rect x="639" y="387.14" width="1" height="2.36" fill="#666666"/>
<rect x="641" y="388.20" width="1" height="1.30" fill="#4d4d4d"/>
<rect x="642" y="387.94" width="1" height="1.56" fill="#484848"/>
<rect x="643" y="387.85" width="1" height="1.65" fill="#4f4f4f"/>
<rect x="644" y="387.99" width="1" height="1.51" fill="#636363"/>
<rect x="645" y="388.19" width="1" height="1.31" fill="#6a6a6a"/>
<rect x="646" y="388.43" width="1" height="1.07" fill="#636363"/>
<rect x="647" y="387.94" width="1" height="1.56" fill="#323232"/>
<rect x="648" y="387.78" width="1" height="1.72" fill="#6c6c6c"/>
<rect x="649" y="387.97" width="1" height="1.53" fill="#3e3e3e"/>
<rect x="650" y="388.19" width="1" height="1.31" fill="#383838"/>
<rect x="651" y="387.97" width="1" height="1.53" fill="#3d3d3d"/>
<rect x="652" y="388.10" width="1" height="1.40" fill="#3b3b3b"/>
<rect x="653" y="388.03" width="1" height="1.47" fill="#4a4a4a"/>
<rect x="654" y="388.07" width="1" height="1.43" fill="#383838"/>
<rect x="655" y="388.38" width="1" height="1.12" fill="#484848"/>
<rect x="656" y="387.92" width="1" height="1.58" fill="#6a6a6a"/>
<rect x="657" y="388.05" width="1" height="1.45" fill="#545454"/>
<rect x="658" y="388.39" width="1" height="1.11" fill="#666666"/>
<rect x="659" y="388.07" width="1" height="1.43" fill="#3c3c3c"/>
<rect x="660" y="387.74" width="1" height="1.76" fill="#5d5d5d"/>
<rect x="661" y="388.00" width="1" height="1.50" fill="#707070"/>
<rect x="662" y="388.08" width="1" height="1.42" fill="#5d5d5d"/>
<rect x="663" y="387.85" width="1" height="1.65" fill="#393939"/>
<rect x="664" y="388.22" width="1" height="1.28" fill="#4c4c4c"/>
<rect x="665" y="388.23" width="1" height="1.27" fill="#555555"/>
<rect x="666" y="388.30" width="1" height="1.20" fill="#666666"/>
<rect x="667" y="388.36" width="1" height="1.14" fill="#656565"/>
<rect x="668" y="387.75" width="1" height="1.75" fill="#454545"/>
<rect x="669" y="388.34" width="1" height="1.16" fill="#333333"/>
<rect x="670" y="388.41" width="1" height="1.09" fill="#565656"/>
<rect x="671" y="388.23" width="1" height="1.27" fill="#606060"/>
<rect x="672" y="387.78" width="1" height="1.72" fill="#676767"/>
<rect x="673" y="388.17" width="1" height="1.33" fill="#696969"/>
<rect x="674" y="388.27" width="1" height="1.23" fill="#383838"/>
<rect x="675" y="387.97" width="1" height="1.53" fill="#3a3a3a"/>
<rect x="676" y="388.38" width="1" height="1.12" fill="#5e5e5e"/>
<rect x="677" y="387.93" width="1" height="1.57" fill="#6e6e6e"/>
<rect x="678" y="388.35" width="1" height="1.15" fill="#383838"/>
<rect x="679" y="388.19" width="1" height="1.31" fill="#5b5b5b"/>
<rect x="680" y="388.22" width="1" height="1.28" fill="#565656"/>
<rect x="681" y="387.98" width="1" height="1.52" fill="#303030"/>
<rect x="682" y="387.80" width="1" height="1.70" fill="#373737"/>
<rect x="683" y="388.36" width="1" height="1.14" fill="#464646"/>
<rect x="684" y="388.40" width="1" height="1.10" fill="#686868"/>
<rect x="685" y="388.10" width="1" height="1.40" fill="#4c4c4c"/>
<rect x="686" y="388.20" width="1" height="1.30" fill="#434343"/>
<rect x="687" y="387.98" width="1" height="1.52" fill="#696969"/>
<rect x="688" y="387.93" width="1" height="1.57" fill="#3b3b3b"/>
<rect x="689" y="387.85" width="1" height="1.65" fill="#626262"/>
<rect x="690" y="388.34" width="1" height="1.16" fill="#363636"/>
<rect x="691" y="388.33" width="1" height="1.17" fill="#3d3d3d"/>
<rect x="691" y="385.33" width="1" height="3.00" fill="#8e8e8e"/>
<rect x="692" y="387.98" width="1" height="1.52" fill="#323232"/>
<rect x="693" y="387.72" width="1" height="1.78" fill="#3b3b3b"/>
<rect x="694" y="387.84" width="1" height="1.66" fill="#707070"/>
<rect x="695" y="388.32" width="1" height="1.18" fill="#707070"/>
<rect x="696" y="388.49" width="1" height="1.01" fill="#494949"/>
<rect x="697" y="387.91" width="1" height="1.59" fill="#3a3a3a"/>
<rect x="698" y="388.32" width="1" height="1.18" fill="#636363"/>
<rect x="699" y="387.72" width="1" height="1.78" fill="#656565"/>
<rect x="700" y="388.09" width="1" height="1.41" fill="#595959"/>
<rect x="701" y="387.87" width="1" height="1.63" fill="#5d5d5d"/>
<rect x="702" y="388.34" width="1" height="1.16" fill="#3d3d3d"/>
<rect x="703" y="388.34" width="1" height="1.16" fill="#575757"/>
<rect x="704" y="387.83" width="1" height="1.67" fill="#616161"/>
<rect x="705" y="387.84" width="1" height="1.66" fill="#5d5d5d"/>
<rect x="706" y="387.96" width="1" height="1.54" fill="#5e5e5e"/>
<rect x="707" y="387.83" width="1" height="1.67" fill="#707070"/>
<rect x="708" y="388.10" width="1" height="1.40" fill="#383838"/>
<rect x="709" y="387.88" width="1" height="1.62" fill="#656565"/>
<rect x="710" y="387.71" width="1" height="1.79" fill="#535353"/>
<rect x="711" y="388.29" width="1" height="1.21" fill="#707070"/>
<rect x="712" y="388.30" width="1" height="1.20" fill="#646464"/>
<rect x="713" y="387.87" width="1" height="1.63" fill="#4f4f4f"/>
<rect x="714" y="388.31" width="1" height="1.19" fill="#4f4f4f"/>
<rect x="715" y="388.21" width="1" height="1.29" fill="#494949"/>
<rect x="716" y="388.19" width="1" height="1.31" fill="#3e3e3e"/>
<rect x="717" y="387.76" width="1" height="1.74" fill="#666666"/>
<rect x="718" y="388.48" width="1" height="1.02" fill="#414141"/>
<rect x="719" y="388.43" width="1" height="1.07" fill="#515151"/>
<rect x="720" y="387.76" width="1" height="1.74" fill="#545454"/>
<rect x="721" y="387.81" width="1" height="1.69" fill="#5d5d5d"/>
<rect x="722" y="387.87" width="1" height="1.63" fill="#585858"/>
<rect x="723" y="387.81" width="1" height="1.69" fill="#3a3a3a"/>
<rect x="724" y="387.70" width="1" height="1.80" fill="#5e5e5e"/>
<rect x="725" y="387.92" width="1" height="1.58" fill="#4d4d4d"/>
<rect x="726" y="388.32" width="1" height="1.18" fill="#585858"/>
<rect x="727" y="388.45" width="1" height="1.05" fill="#595959"/>
<rect x="728" y="388.15" width="1" height="1.35" fill="#5c5c5c"/>
<rect x="729" y="388.38" width="1" height="1.12" fill="#616161"/>
<rect x="730" y="388.42" width="1" height="1.08" fill="#383838"/>
<rect x="731" y="387.76" width="1" height="1.74" fill="#555555"/>
<rect x="732" y="388.41" width="1" height="1.09" fill="#494949"/>
<rect x="733" y="387.84" width="1" height="1.66" fill="#464646"/>
<rect x="734" y="388.26" width="1" height="1.24" fill="#595959"/>
<rect x="735" y="388.12" width="1" height="1.38" fill="#707070"/>
<rect x="736" y="387.70" width="1" height="1.80" fill="#3a3a3a"/>
<rect x="737" y="388.32" width="1" height="1.18" fill="#404040"/>
<rect x="738" y="388.36" width="1" height="1.14" fill="#464646"/>
<rect x="739" y="387.94" width="1" height="1.56" fill="#373737"/>
<rect x="741" y="388.01" width="1" height="1.49" fill="#3a3a3a"/>
<rect x="742" y="388.28" width="1" height="1.22" fill="#303030"/>
<rect x="743" y="388.14" width="1" height="1.36" fill="#5f5f5f"/>
<rect x="743" y="385.64" width="1" height="2.50" fill="#595959"/>
<rect x="744" y="387.67" width="1" height="1.83" fill="#646464"/>
<rect x="745" y="388.25" width="1" height="1.25" fill="#3c3c3c"/>
<rect x="746" y="387.87" width="1" height="1.63" fill="#515151"/>
<rect x="747" y="387.72" width="1" height="1.78" fill="#3b3b3b"/>
<rect x="748" y="388.11" width="1" height="1.39" fill="#3b3b3b"/>
<rect x="749" y="388.04" width="1" height="1.46" fill="#505050"/>
<rect x="749" y="386.04" width="1" height="2.00" fill="#999999"/>
<rect x="750" y="388.32" width="1" height="1.18" fill="#555555"/>
<rect x="750" y="386.32" width="1" height="2.00" fill="#939393"/>
<rect x="751" y="388.01" width="1" height="1.49" fill="#5e5e5e"/>
<rect x="752" y="387.99" width="1" height="1.51" fill="#484848"/>
<rect x="753" y="387.62" width="1" height="1.88" fill="#707070"/>
<rect x="753" y="385.62" width="1" height="2.00" fill="#5f5f5f"/>
<rect x="754" y="388.16" width="1" height="1.34" fill="#676767"/>
<rect x="755" y="388.00" width="1" height="1.50" fill="#3b3b3b"/>
<rect x="756" y="388.31" width="1" height="1.19" fill="#494949"/>
<rect x="757" y="387.82" width="1" height="1.68" fill="#575757"/>
<rect x="758" y="388.29" width="1" height="1.21" fill="#4c4c4c"/>
<rect x="759" y="388.25" width="1" height="1.25" fill="#313131"/>
<rect x="760" y="387.95" width="1" height="1.55" fill="#5a5a5a"/>
<rect x="761" y="388.10" width="1" height="1.40" fill="#575757"/>
<rect x="762" y="388.30" width="1" height="1.20" fill="#555555"/>
<rect x="763" y="388.25" width="1" height="1.25" fill="#363636"/>
<rect x="764" y="388.32" width="1" height="1.18" fill="#626262"/>
<rect x="765" y="387.69" width="1" height="1.81" fill="#3b3b3b"/>
<rect x="766" y="388.04" width="1" height="1.46" fill="#696969"/>
<rect x="767" y="387.99" width="1" height="1.51" fill="#393939"/>
<rect x="569" y="308.00" width="1" height="81.50" fill="#c4c4c4"/>
<rect x="572" y="317.00" width="1" height="72.50" fill="#c4c4c4"/>
<rect x="484" y="384.90" width="1" height="4.60" fill="#3a3a3a"/>
<rect x="488" y="377.00" width="1" height="12.50" fill="#555"/>
<rect x="492" y="384.40" width="1" height="5.10" fill="#3a3a3a"/>
<rect x="494" y="381.70" width="1" height="7.80" fill="#666"/>
<rect x="494" y="382.50" width="1" height="7.00" fill="#3a3a3a"/>
<rect x="521" y="385.40" width="1" height="4.10" fill="#3a3a3a"/>
<rect x="528" y="383.10" width="1" height="6.40" fill="#3a3a3a"/>
<rect x="566" y="384.50" width="1" height="5.00" fill="#777"/>
<rect x="569" y="369.80" width="1" height="19.70" fill="#3a3a3a"/>
<rect x="572" y="357.10" width="1" height="32.40" fill="#3a3a3a"/>
<rect x="575" y="364.30" width="1" height="25.20" fill="#3a3a3a"/>
<rect x="577" y="365.90" width="1" height="23.60" fill="#999"/>
<rect x="578" y="381.30" width="1" height="8.20" fill="#3a3a3a"/>
<rect x="579" y="368.10" width="1" height="21.40" fill="#999"/>
<rect x="580" y="380.20" width="1" height="9.30" fill="#3a3a3a"/>
<rect x="581" y="378.00" width="1" height="11.50" fill="#aaa"/>
<rect x="582" y="384.60" width="1" height="4.90" fill="#3a3a3a"/>
<rect x="584" y="384.00" width="1" height="5.50" fill="#777"/>
<rect x="586" y="385.70" width="1" height="3.80" fill="#3a3a3a"/>
<rect x="658" y="384.00" width="1" height="5.50" fill="#3a3a3a"/>
<rect x="605" y="383.00" width="1" height="6.50" fill="#3a3a3a"/>
<rect x="614" y="384.80" width="1" height="4.70" fill="#3a3a3a"/>
<rect x="603" y="385.20" width="1" height="4.30" fill="#3a3a3a"/>
<rect x="607" y="386.50" width="1" height="3.00" fill="#3a3a3a"/>
<rect x="701" y="384.60" width="1" height="4.90" fill="#777"/>
<rect x="691" y="385.80" width="1" height="3.70" fill="#3a3a3a"/>
<rect x="701" y="384.60" width="1" height="4.90" fill="#3a3a3a"/>
<rect x="730" y="384.30" width="1" height="5.20" fill="#3a3a3a"/>
<rect x="733" y="386.00" width="1" height="3.50" fill="#3a3a3a"/>
<rect x="745" y="384.30" width="1" height="5.20" fill="#3a3a3a"/>
<rect x="748" y="366.70" width="1" height="22.80" fill="#555"/>
<rect x="751" y="356.80" width="1" height="32.70" fill="#777"/>
<rect x="752" y="355.30" width="1" height="34.20" fill="#999"/>
<rect x="755" y="371.30" width="1" height="18.20" fill="#777"/>
<rect x="756" y="372.80" width="1" height="16.70" fill="#999"/>
<rect x="760" y="381.20" width="1" height="8.30" fill="#777"/>
<rect x="761" y="382.80" width="1" height="6.70" fill="#999"/>
<rect x="765" y="385.00" width="1" height="4.50" fill="#777"/>
<rect x="766" y="386.00" width="1" height="3.50" fill="#999"/>
<rect x="574" y="261.40" width="1" height="128.10" fill="#8a8a8a"/>
<rect x="568" y="306.70" width="1" height="82.80" fill="#8a8a8a"/>
<rect x="571" y="315.10" width="1" height="74.40" fill="#8a8a8a"/>
<rect x="601" y="330.10" width="1" height="59.40" fill="#8a8a8a"/>
<rect x="490" y="364.70" width="1" height="24.80" fill="#8a8a8a"/>
<rect x="503" y="370.60" width="1" height="18.90" fill="#8a8a8a"/>
<rect x="742" y="305.30" width="1" height="84.20" fill="#8a8a8a"/>
<rect x="747" y="302.80" width="1" height="86.70" fill="#8a8a8a"/>
<rect x="727" y="376.00" width="1" height="13.50" fill="#8a8a8a"/>
<line x1="129.80" y1="342.50" x2="130.90" y2="338.60" stroke="#555" stroke-width="0.9"/>
<line x1="133.50" y1="377.60" x2="135.00" y2="373.10" stroke="#555" stroke-width="0.9"/>
<line x1="201.60" y1="376.40" x2="202.60" y2="373.20" stroke="#555" stroke-width="0.9"/>
<line x1="295.20" y1="388.00" x2="295.80" y2="384.40" stroke="#555" stroke-width="0.9"/>
<line x1="567.60" y1="302.60" x2="569.00" y2="306.40" stroke="#555" stroke-width="0.9"/>
<line x1="606.20" y1="382.50" x2="608.20" y2="378.00" stroke="#555" stroke-width="0.9"/>
<line x1="640.90" y1="386.00" x2="642.40" y2="382.60" stroke="#555" stroke-width="0.9"/>
<line x1="711.20" y1="380.00" x2="714.20" y2="387.40" stroke="#555" stroke-width="0.9"/>
<line x1="726.00" y1="368.30" x2="727.60" y2="375.90" stroke="#555" stroke-width="0.9"/>
<line x1="740.80" y1="305.30" x2="742.50" y2="305.80" stroke="#555" stroke-width="0.9"/>
<text x="112.10" y="33.20" font-size="10.3" fill="#383838">686.74571</text>
<text x="172.30" y="148.60" font-size="10.3" fill="#383838">858.43033</text>
<text x="127.80" y="246.00" font-size="10.3" fill="#383838">-687.34784</text>
<text x="128.50" y="336.90" font-size="10.3" fill="#383838">694.33464</text>
<text x="132.00" y="348.70" font-size="10.3" fill="#383838">-694.53555</text>
<text x="131.70" y="370.30" font-size="10.3" fill="#383838">703.33227</text>
<text x="135.40" y="380.00" font-size="10.3" fill="#383838">752.86712</text>
<text x="198.50" y="341.50" font-size="10.3" fill="#383838">-859.18154</text>
<text x="205.30" y="358.20" font-size="10.3" fill="#383838">867.91685</text>
<text x="202.10" y="371.50" font-size="10.3" fill="#383838">869.17260</text>
<text x="204.20" y="380.40" font-size="10.3" fill="#383838">-873.41095</text>
<text x="245.70" y="388.10" font-size="10.3" fill="#383838">962.99047</text>
<text x="286.80" y="325.70" font-size="10.3" fill="#383838">1144.23690</text>
<text x="314.00" y="345.80" font-size="10.3" fill="#383838">-1144.56958</text>
<text x="317.50" y="361.20" font-size="10.3" fill="#383838">-1151.56357</text>
<text x="321.20" y="372.20" font-size="10.3" fill="#383838">-1158.89145</text>
<text x="323.90" y="381.10" font-size="10.3" fill="#383838">-1166.21851</text>
<line x1="199.50" y1="352.60" x2="203.60" y2="352.60" stroke="#555" stroke-width="0.9"/>
<text x="550.30" y="259.40" font-size="10.3" fill="#383838">807.99084</text>
<text x="577.30" y="286.80" font-size="10.3" fill="#383838">-808.32449</text>
<text x="578.40" y="327.80" font-size="10.3" fill="#383838">869.18173</text>
<text x="472.80" y="362.60" font-size="10.3" fill="#383838">615.73141</text>
<text x="504.50" y="373.00" font-size="10.3" fill="#383838">-645.27326</text>
<text x="505.90" y="382.20" font-size="10.3" fill="#383838">703.13627</text>
<text x="603.60" y="364.80" font-size="10.3" fill="#383838">-869.68307</text>
<text x="601.50" y="374.20" font-size="10.3" fill="#383838">878.66788</text>
<text x="622.00" y="383.00" font-size="10.3" fill="#383838">958.56902</text>
<text x="671.50" y="378.00" font-size="10.3" fill="#383838">1126.48140</text>
<text x="688.30" y="365.80" font-size="10.3" fill="#383838">1158.57157</text>
<text x="686.70" y="317.40" font-size="10.3" fill="#383838">1192.50786</text>
<text x="716.80" y="300.30" font-size="10.3" fill="#383838">1203.49861</text>
<text x="572.90" y="301.40" font-size="10.3" fill="#383838" text-anchor="end">795.34210</text>
<text x="563.70" y="327.80" font-size="10.3" fill="#383838" text-anchor="end">795.0075</text>
<line x1="565.20" y1="323.60" x2="568.20" y2="323.60" stroke="#666" stroke-width="0.9"/>
<rect x="82.20" y="1.5" width="299.30" height="387.90" fill="none" stroke="#3a3a3a" stroke-width="1.2"/>
<rect x="471.75" y="1.5" width="305.75" height="387.90" fill="none" stroke="#3a3a3a" stroke-width="1.2"/>
<text x="76.30" y="394.20" font-size="14" fill="#111" text-anchor="end">0</text>
<line x1="82.20" y1="356.15" x2="87.40" y2="356.15" stroke="#3a3a3a" stroke-width="1.1"/>
<text x="75.80" y="361.05" font-size="13.5" fill="#111" text-anchor="end">5x10<tspan font-size="12.5" dy="-4.7">5</tspan></text>
<line x1="82.20" y1="323.30" x2="87.40" y2="323.30" stroke="#3a3a3a" stroke-width="1.1"/>
<text x="75.80" y="328.20" font-size="13.5" fill="#111" text-anchor="end">1x10<tspan font-size="12.5" dy="-4.7">6</tspan></text>
<line x1="82.20" y1="290.45" x2="87.40" y2="290.45" stroke="#3a3a3a" stroke-width="1.1"/>
<text x="75.80" y="295.35" font-size="13.5" fill="#111" text-anchor="end">1.5x10<tspan font-size="12.5" dy="-4.7">6</tspan></text>
<line x1="82.20" y1="257.60" x2="87.40" y2="257.60" stroke="#3a3a3a" stroke-width="1.1"/>
<text x="75.80" y="262.50" font-size="13.5" fill="#111" text-anchor="end">2x10<tspan font-size="12.5" dy="-4.7">6</tspan></text>
<line x1="82.20" y1="224.75" x2="87.40" y2="224.75" stroke="#3a3a3a" stroke-width="1.1"/>
<text x="75.80" y="229.65" font-size="13.5" fill="#111" text-anchor="end">2.5x10<tspan font-size="12.5" dy="-4.7">6</tspan></text>
<line x1="82.20" y1="191.90" x2="87.40" y2="191.90" stroke="#3a3a3a" stroke-width="1.1"/>
<text x="75.80" y="196.80" font-size="13.5" fill="#111" text-anchor="end">3x10<tspan font-size="12.5" dy="-4.7">6</tspan></text>
<line x1="82.20" y1="159.05" x2="87.40" y2="159.05" stroke="#3a3a3a" stroke-width="1.1"/>
<text x="75.80" y="163.95" font-size="13.5" fill="#111" text-anchor="end">3.5x10<tspan font-size="12.5" dy="-4.7">6</tspan></text>
<line x1="82.20" y1="126.20" x2="87.40" y2="126.20" stroke="#3a3a3a" stroke-width="1.1"/>
<text x="75.80" y="131.10" font-size="13.5" fill="#111" text-anchor="end">4x10<tspan font-size="12.5" dy="-4.7">6</tspan></text>
<line x1="82.20" y1="93.35" x2="87.40" y2="93.35" stroke="#3a3a3a" stroke-width="1.1"/>
<text x="75.80" y="98.25" font-size="13.5" fill="#111" text-anchor="end">4.5x10<tspan font-size="12.5" dy="-4.7">6</tspan></text>
<line x1="82.20" y1="60.50" x2="87.40" y2="60.50" stroke="#3a3a3a" stroke-width="1.1"/>
<text x="75.80" y="65.40" font-size="13.5" fill="#111" text-anchor="end">5x10<tspan font-size="12.5" dy="-4.7">6</tspan></text>
<line x1="82.20" y1="27.65" x2="87.40" y2="27.65" stroke="#3a3a3a" stroke-width="1.1"/>
<text x="75.80" y="32.55" font-size="13.5" fill="#111" text-anchor="end">5.5x10<tspan font-size="12.5" dy="-4.7">6</tspan></text>
<text x="465.90" y="394.20" font-size="14" fill="#111" text-anchor="end">0</text>
<line x1="471.75" y1="353.40" x2="476.95" y2="353.40" stroke="#3a3a3a" stroke-width="1.1"/>
<text x="465.40" y="358.30" font-size="13.5" fill="#111" text-anchor="end">2.5x10<tspan font-size="12.5" dy="-4.7">5</tspan></text>
<line x1="471.75" y1="317.80" x2="476.95" y2="317.80" stroke="#3a3a3a" stroke-width="1.1"/>
<text x="465.40" y="322.70" font-size="13.5" fill="#111" text-anchor="end">5x10<tspan font-size="12.5" dy="-4.7">5</tspan></text>
<line x1="471.75" y1="282.20" x2="476.95" y2="282.20" stroke="#3a3a3a" stroke-width="1.1"/>
<text x="465.40" y="287.10" font-size="13.5" fill="#111" text-anchor="end">7.5x10<tspan font-size="12.5" dy="-4.7">5</tspan></text>
<line x1="471.75" y1="246.60" x2="476.95" y2="246.60" stroke="#3a3a3a" stroke-width="1.1"/>
<text x="465.40" y="251.50" font-size="13.5" fill="#111" text-anchor="end">1x10<tspan font-size="12.5" dy="-4.7">6</tspan></text>
<line x1="471.75" y1="211.00" x2="476.95" y2="211.00" stroke="#3a3a3a" stroke-width="1.1"/>
<text x="465.40" y="215.90" font-size="13.5" fill="#111" text-anchor="end">1.25x10<tspan font-size="12.5" dy="-4.7">6</tspan></text>
<line x1="471.75" y1="175.40" x2="476.95" y2="175.40" stroke="#3a3a3a" stroke-width="1.1"/>
<text x="465.40" y="180.30" font-size="13.5" fill="#111" text-anchor="end">1.5x10<tspan font-size="12.5" dy="-4.7">6</tspan></text>
<line x1="471.75" y1="139.80" x2="476.95" y2="139.80" stroke="#3a3a3a" stroke-width="1.1"/>
<text x="465.40" y="144.70" font-size="13.5" fill="#111" text-anchor="end">1.75x10<tspan font-size="12.5" dy="-4.7">6</tspan></text>
<line x1="471.75" y1="104.20" x2="476.95" y2="104.20" stroke="#3a3a3a" stroke-width="1.1"/>
<text x="465.40" y="109.10" font-size="13.5" fill="#111" text-anchor="end">2x10<tspan font-size="12.5" dy="-4.7">6</tspan></text>
<line x1="471.75" y1="68.60" x2="476.95" y2="68.60" stroke="#3a3a3a" stroke-width="1.1"/>
<text x="465.40" y="73.50" font-size="13.5" fill="#111" text-anchor="end">2.25x10<tspan font-size="12.5" dy="-4.7">6</tspan></text>
<line x1="471.75" y1="33.00" x2="476.95" y2="33.00" stroke="#3a3a3a" stroke-width="1.1"/>
<text x="465.40" y="37.90" font-size="13.5" fill="#111" text-anchor="end">2.5x10<tspan font-size="12.5" dy="-4.7">6</tspan></text>
</svg></body></html>
